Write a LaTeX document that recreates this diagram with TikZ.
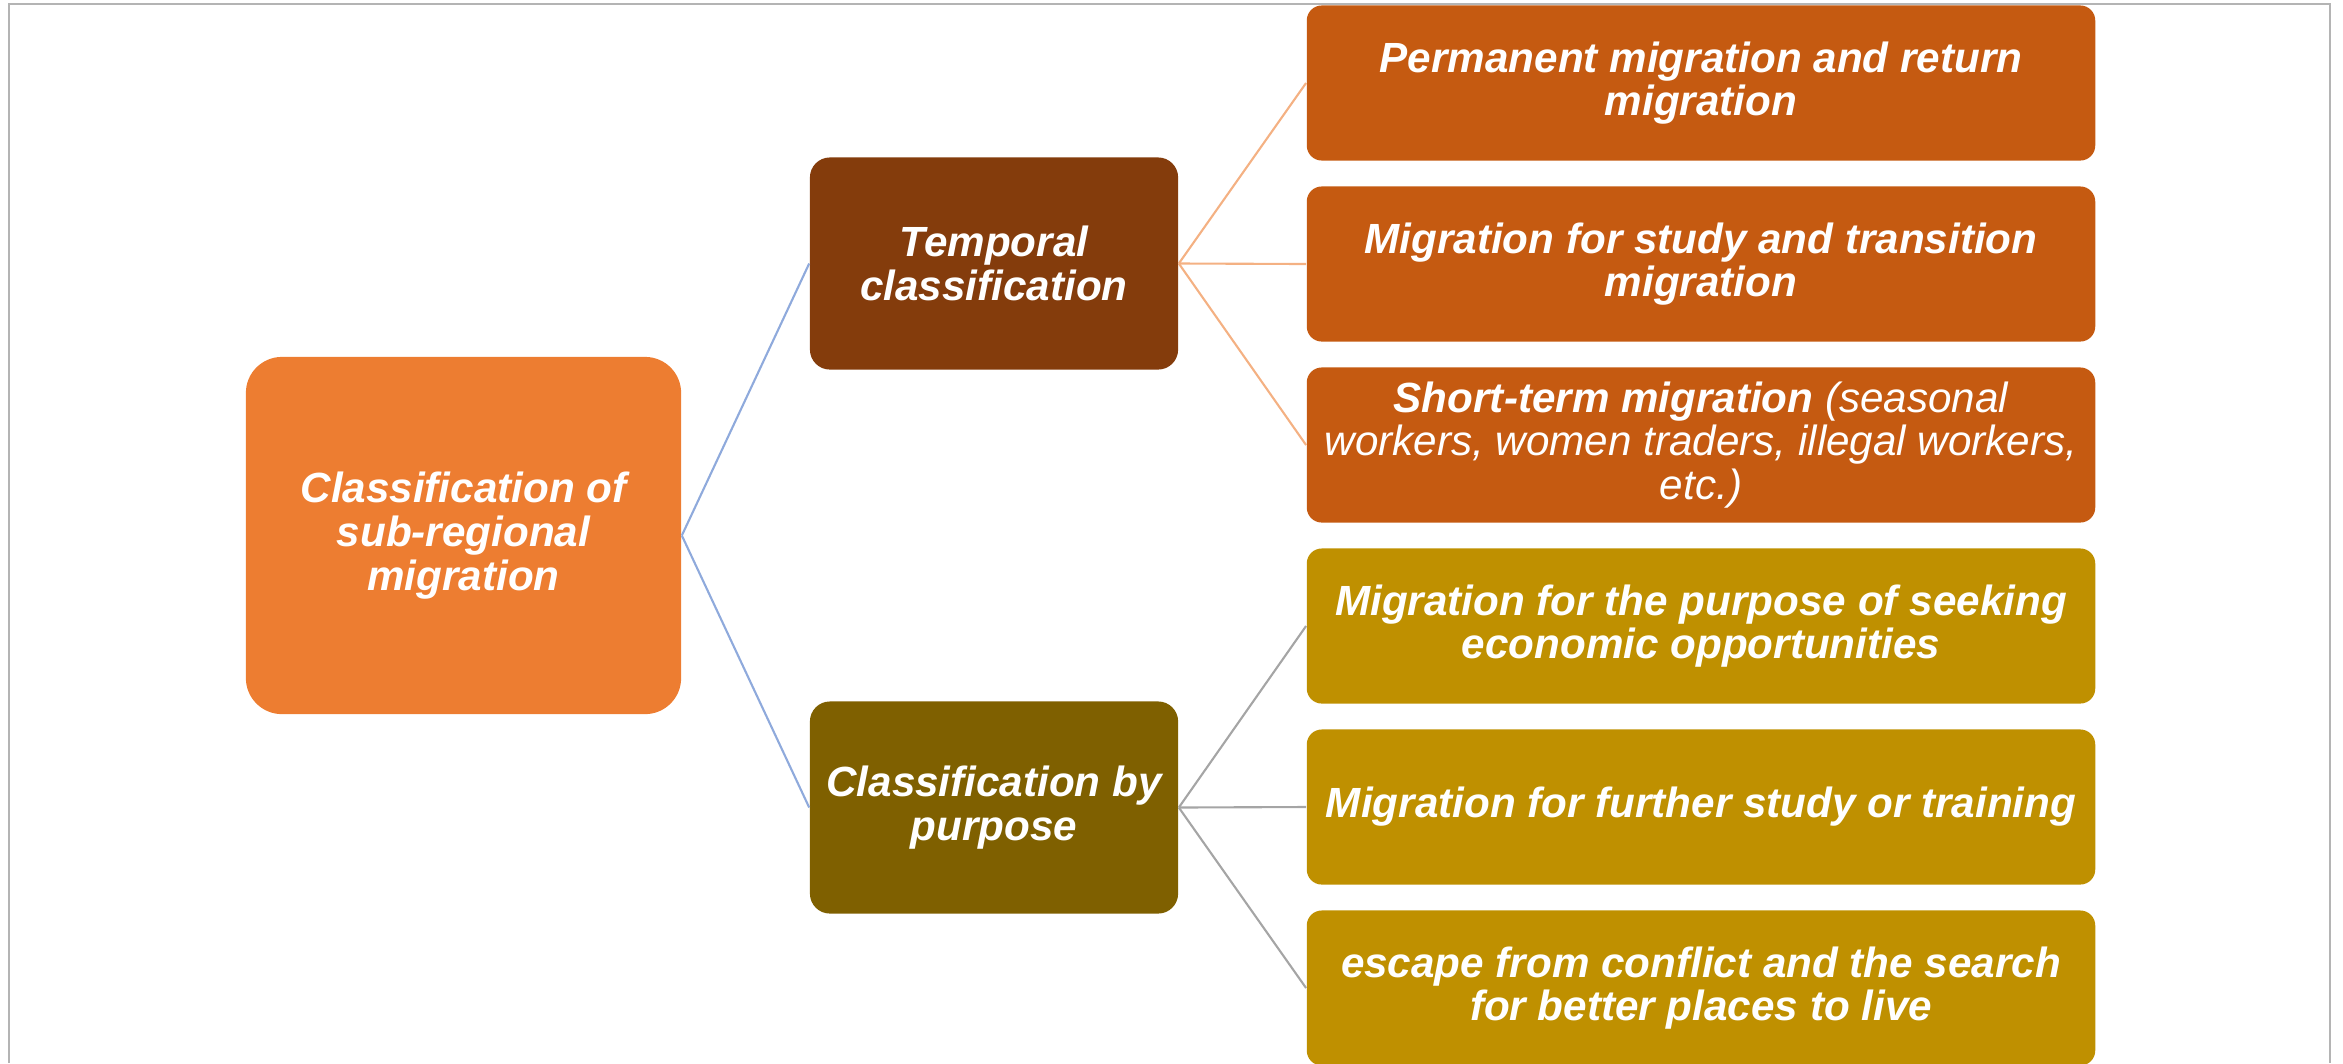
\documentclass[tikz,border=0pt]{standalone}
\usepackage{fontspec}
\setmainfont{Liberation Sans}
\definecolor{rootorange}{HTML}{ED7D31}
\definecolor{tempbrown}{HTML}{843C0C}
\definecolor{tempfill}{HTML}{C55A11}
\definecolor{purpbrown}{HTML}{7F6000}
\definecolor{purpfill}{HTML}{BF9000}
\definecolor{linkblue}{HTML}{8FAADC}
\definecolor{linkorange}{HTML}{F4B183}
\definecolor{linkgray}{HTML}{A5A5A5}
\definecolor{framegray}{HTML}{B4B4B4}
\begin{document}
\begin{tikzpicture}[x=0.01cm, y=-0.01cm]
    \tikzstyle{box}=[rectangle, text=white, align=center, inner sep=0pt,
        font=\fontsize{12}{12.4}\selectfont\bfseries\itshape]
    \tikzstyle{rootbox}=[box, fill=rootorange, minimum width=4.35cm, minimum height=3.57cm, rounded corners=0.36cm]
    \tikzstyle{midbox}=[box, minimum width=3.68cm, minimum height=2.12cm, rounded corners=0.2cm]
    \tikzstyle{leaf}=[box, minimum width=7.88cm, minimum height=1.55cm, rounded corners=0.15cm]
    \tikzstyle{link}=[line width=0.6pt]

    \useasboundingbox (0,0) rectangle (2343,1063);
    \draw[framegray, line width=0.7pt] (9,1063) -- (9,4) -- (2330,4) -- (2330,1063);

    \node[rootbox] (root) at (463.5,535.5) {Classification of\\sub-regional\\migration};
    \node[midbox, fill=tempbrown] (temp) at (994,263.5) {Temporal\\classification};
    \node[midbox, fill=purpbrown] (purp) at (994,807.5) {Classification by\\purpose};

    \node[leaf, fill=tempfill] (t1) at (1701,83) {Permanent migration and return\\migration};
    \node[leaf, fill=tempfill] (t2) at (1701,264) {Migration for study and transition\\migration};
    \node[leaf, fill=tempfill] (t3) at (1701,445) {Short-term migration {\mdseries(seasonal}\\{\mdseries workers, women traders, illegal workers,}\\{\mdseries etc.)}};
    \node[leaf, fill=purpfill] (p1) at (1701,626) {Migration for the purpose of seeking\\economic opportunities};
    \node[leaf, fill=purpfill] (p2) at (1701,807) {Migration for further study or training};
    \node[leaf, fill=purpfill] (p3) at (1701,988) {escape from conflict and the search\\for better places to live};

    \path[link, linkblue] (root.east) edge (temp.west);
    \path[link, linkblue] (root.east) edge (purp.west);
    \path[link, linkorange] (temp.east) edge (t1.west);
    \path[link, linkorange] (temp.east) edge (t2.west);
    \path[link, linkorange] (temp.east) edge (t3.west);
    \path[link, linkgray] (purp.east) edge (p1.west);
    \path[link, linkgray] (purp.east) edge (p2.west);
    \path[link, linkgray] (purp.east) edge (p3.west);
\end{tikzpicture}
\end{document}
